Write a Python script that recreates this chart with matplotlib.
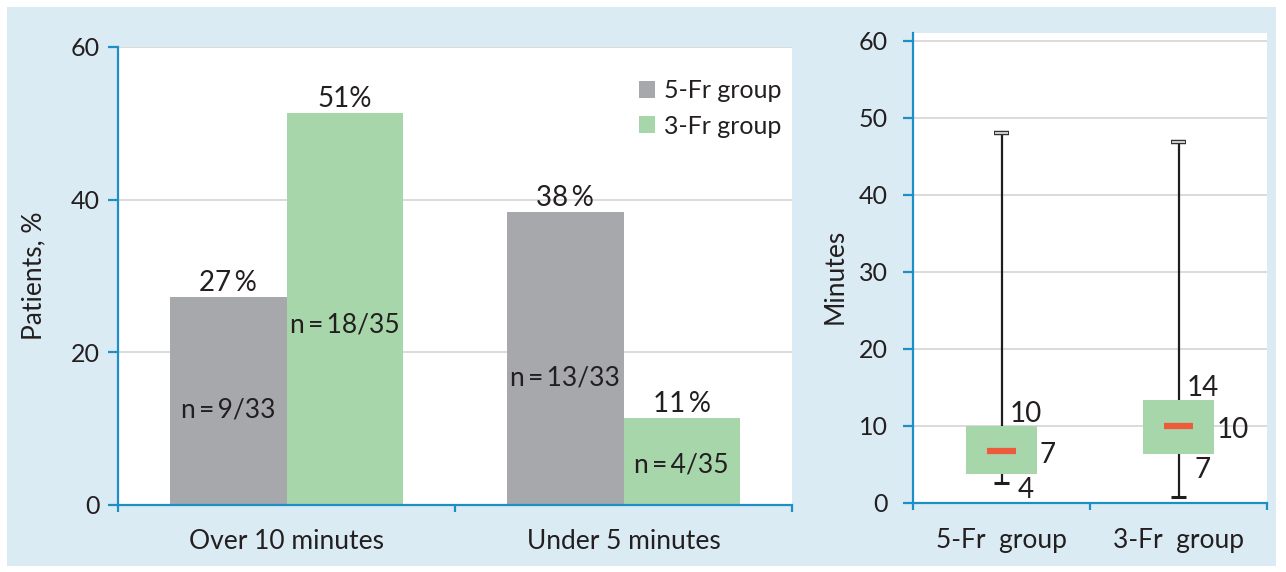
import matplotlib
matplotlib.use("Agg")
import matplotlib.pyplot as plt
from matplotlib.patches import Rectangle
import numpy as np

plt.rcParams['font.family'] = ['Lato', 'DejaVu Sans']

# bar chart data
categories = ["Over 10 minutes", "Under 5 minutes"]
groups = ["5-Fr group", "3-Fr group"]
pct_5fr = [27.3, 38.4]
pct_3fr = [51.4, 11.4]
pct_lbl_5fr = ["27\u2009%", "38\u2009%"]
pct_lbl_3fr = ["51%", "11\u2009%"]
n_lbl_5fr = ["n\u2009=\u20099/33", "n\u2009=\u200913/33"]
n_lbl_3fr = ["n\u2009=\u200918/35", "n\u2009=\u20094/35"]
n_y_5fr = [12.4, 16.6]
n_y_3fr = [23.6, 5.2]

# box plot data (minutes)
box_names = ["5-Fr  group", "3-Fr  group"]
whislo = [2.6, 0.8]
q1 = [3.7, 6.3]
med = [6.8, 10.0]
q3 = [10.0, 13.4]
whishi = [48.0, 46.9]
q3_lbl = ["10", "14"]
med_lbl = ["7", "10"]
q1_lbl = ["4", "7"]

GRAY = "#a7a8ac"
GREEN = "#a7d6aa"
RED = "#ee5a3c"
BG = "#dbebf3"
BLUE = "#1d8fc7"
GRID = "#d4d4d4"
TXT = "#231f20"

W, H = 1286, 572
fig = plt.figure(figsize=(W / 100, H / 100), dpi=100, facecolor="white")
fig.patches.append(Rectangle((7 / W, 6 / H), 1269 / W, 559 / H, transform=fig.transFigure,
                             facecolor=BG, edgecolor="none", zorder=-10))

def px_axes(l, t, r, b):
    return fig.add_axes([l / W, (H - b) / H, (r - l) / W, (b - t) / H])

def style_axes(ax):
    for s in ["top", "right"]:
        ax.spines[s].set_visible(False)
    for s in ["left", "bottom"]:
        ax.spines[s].set_color(BLUE)
        ax.spines[s].set_linewidth(1.6)
    ax.tick_params(axis="both", which="major", colors=BLUE, width=1.6, labelcolor=TXT)
    ax.tick_params(axis="x", which="major", length=5, labelbottom=False)
    ax.tick_params(axis="x", which="minor", length=0, labelcolor=TXT)
    ax.set_axisbelow(True)
    ax.yaxis.grid(True, color=GRID, lw=1.2)

# ---- left: bar chart
ax1 = px_axes(118, 47, 792, 505)
style_axes(ax1)
x = np.arange(len(categories)) + 0.5
bw = 0.345
b1 = ax1.bar(x - bw / 2, pct_5fr, bw, color=GRAY, label=groups[0])
b2 = ax1.bar(x + bw / 2, pct_3fr, bw, color=GREEN, label=groups[1])
for i in range(len(categories)):
    ax1.annotate(pct_lbl_5fr[i], (x[i] - bw / 2, pct_5fr[i]), xytext=(0, 4), textcoords="offset points",
                 ha="center", va="baseline", fontsize=20, color=TXT)
    ax1.annotate(pct_lbl_3fr[i], (x[i] + bw / 2, pct_3fr[i]), xytext=(0, 4), textcoords="offset points",
                 ha="center", va="baseline", fontsize=20, color=TXT)
    ax1.text(x[i] - bw / 2, n_y_5fr[i], n_lbl_5fr[i], ha="center", va="center", fontsize=19, color=TXT)
    ax1.text(x[i] + bw / 2, n_y_3fr[i], n_lbl_3fr[i], ha="center", va="center", fontsize=19, color=TXT)
ax1.set_xlim(0, 2)
ax1.set_ylim(0, 60)
ax1.set_yticks([0, 20, 40, 60])
ax1.tick_params(axis="y", length=7, pad=6, labelsize=18)
ax1.set_xticks([0, 1, 2])
ax1.set_xticks(x, minor=True)
ax1.set_xticklabels(categories, minor=True, fontsize=19)
ax1.tick_params(axis="x", which="minor", pad=17)
ax1.set_ylabel("Patients, %", fontsize=19, color=TXT)
ax1.yaxis.set_label_coords(-0.107, 0.5)
ax1.legend(loc="upper left", bbox_to_anchor=(0.773, 0.93), frameon=False, fontsize=18,
           handlelength=0.65, handleheight=0.65, handletextpad=0.35, labelspacing=0.5,
           borderpad=0, borderaxespad=0, labelcolor=TXT)

# ---- right: box plot
ax2 = px_axes(913, 33, 1267, 503)
style_axes(ax2)
bx = np.arange(len(box_names)) + 0.5
stats = [dict(whislo=whislo[i], q1=q1[i], med=med[i], q3=q3[i], whishi=whishi[i], label=box_names[i])
         for i in range(len(box_names))]
ax2.bxp(stats, positions=bx, widths=0.4, patch_artist=True, showcaps=False, showfliers=False,
        boxprops=dict(facecolor=GREEN, edgecolor=GREEN, lw=0, zorder=3),
        whiskerprops=dict(color="#1e1e1e", lw=1.6, zorder=2),
        medianprops=dict(lw=0))
cw = 0.045
for i in range(len(box_names)):
    ax2.plot([bx[i] - 0.083, bx[i] + 0.083], [med[i], med[i]], color=RED, lw=4.5,
             solid_capstyle="butt", zorder=4)
    ax2.plot([bx[i] - cw, bx[i] + cw], [whislo[i], whislo[i]], color="#1e1e1e", lw=2.2,
             solid_capstyle="butt", zorder=4)
    ax2.plot([bx[i] - cw, bx[i] + cw], [whishi[i], whishi[i]], color="#333333", lw=3.2,
             solid_capstyle="butt", zorder=4)
    ax2.plot([bx[i] - cw + 0.006, bx[i] + cw - 0.006], [whishi[i], whishi[i]], color="#d0d0d0", lw=1.4,
             solid_capstyle="butt", zorder=5)
    ax2.text(bx[i] + 0.045, q3[i] + 0.5, q3_lbl[i], ha="left", va="baseline", fontsize=20, color=TXT)
    ax2.text(bx[i] + 0.215, med[i] - 1.6, med_lbl[i], ha="left", va="baseline", fontsize=20, color=TXT)
    ax2.text(bx[i] + 0.09, q1[i] - 3.1, q1_lbl[i], ha="left", va="baseline", fontsize=20, color=TXT)
ax2.set_xlim(0, 2)
ax2.set_ylim(0, 61)
ax2.set_yticks(range(0, 61, 10))
ax2.tick_params(axis="y", length=7, pad=11, labelsize=18)
ax2.set_xticks([0, 1, 2])
ax2.set_xticks(bx, minor=True)
ax2.set_xticklabels(box_names, minor=True, fontsize=19)
ax2.tick_params(axis="x", which="minor", pad=18)
ax2.set_ylabel("Minutes", fontsize=19, color=TXT)
ax2.yaxis.set_label_coords(-0.184, 0.483)

fig.savefig("out.png", dpi=100, facecolor="white")
